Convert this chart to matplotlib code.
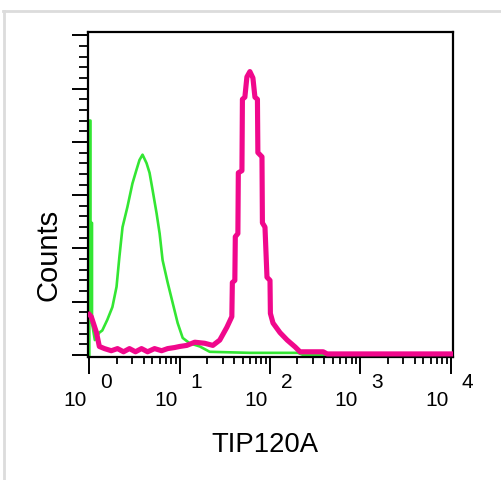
import matplotlib
matplotlib.use("Agg")
import matplotlib.pyplot as plt
from matplotlib.ticker import MultipleLocator, AutoMinorLocator, LogLocator, NullFormatter
from matplotlib.transforms import offset_copy

plt.rcParams['font.family'] = ['Liberation Sans', 'DejaVu Sans']

# isotype control (green)
ctrl_x = [1.0, 1.0, 1.03, 1.03, 1.07, 1.07, 1.15, 1.29, 1.39, 1.58, 1.80, 2.0, 2.15, 2.33,
          2.64, 3.0, 3.33, 3.59, 3.88, 4.30, 4.64, 5.01, 5.55, 6.0, 6.47, 7.36, 8.36,
          9.5, 10.8, 12.9, 16.7, 21.5, 60, 204, 233, 10000]
ctrl_y = [0, 220, 220, 124, 124, 30, 14, 21, 23, 33, 45, 64, 92, 120,
          139, 161, 174, 183, 188, 180, 171, 155, 133, 114, 89, 68, 49,
          30, 16, 11, 8, 3, 2, 2, 0, 0]

# TIP120A stained sample (magenta)
tip_x = [1.0, 1.05, 1.20, 1.29, 1.47, 1.75, 2.05, 2.39, 2.78, 3.24, 3.78, 4.41, 5.27,
         6.31, 7.36, 8.8, 10, 12.0, 14.7, 18.9, 23.3, 27.8, 33.3, 37.8, 38.3, 40.8,
         41.3, 44.1, 44.6, 48.9, 49.5, 52.7, 55.5, 59.9, 64.7, 68.1, 72.6, 73.4, 81.5,
         82.4, 88, 92.6, 100, 101, 108, 129, 155, 190, 215, 388, 430, 10000]
tip_y = [38, 36, 21, 8, 6, 4, 6, 3, 6, 3, 6, 3, 6,
         4, 6, 7, 8, 9, 12, 11, 9, 14, 26, 36, 68, 70,
         111, 114, 171, 173, 240, 242, 261, 266, 260, 242, 240, 190, 186,
         124, 120, 73, 70, 39, 30, 21, 14, 7.5, 3, 3, 1, 1]

decades = [1, 10, 100, 1000, 10000]
exponents = ['0', '1', '2', '3', '4']

fig = plt.figure(figsize=(5.02, 4.8), dpi=100)
ax = fig.add_axes([0.176, 0.256, 0.727, 0.677])

ax.plot(ctrl_x, ctrl_y, color='#33e633', lw=1.9, zorder=2)
ax.plot(tip_x, tip_y, color='#f0088c', lw=3.7, zorder=3)

ax.set_xscale('log')
ax.set_xlim(0.975, 10700)
ax.set_ylim(-2, 303)

ax.xaxis.set_major_locator(LogLocator(base=10, numticks=10))
ax.xaxis.set_minor_locator(LogLocator(base=10, subs=range(2, 10), numticks=20))
ax.xaxis.set_major_formatter(NullFormatter())
ax.xaxis.set_minor_formatter(NullFormatter())
ax.yaxis.set_major_locator(MultipleLocator(50))
ax.yaxis.set_minor_locator(AutoMinorLocator(5))
ax.yaxis.set_major_formatter(NullFormatter())

ax.tick_params(axis='x', which='major', direction='out', length=12, width=1.4)
ax.tick_params(axis='x', which='minor', direction='out', length=5, width=1.3)
ax.tick_params(axis='y', which='major', direction='out', length=11.5, width=1.4)
ax.tick_params(axis='y', which='minor', direction='out', length=6.5, width=1.3)
for s in ax.spines.values():
    s.set_linewidth(1.6)

# old cytometer style labels: "10" left of the tick, exponent right of it
base_tr = offset_copy(ax.get_xaxis_transform(), fig=fig, x=-14, y=0, units='dots')
exp_tr = offset_copy(ax.get_xaxis_transform(), fig=fig, x=17, y=0, units='dots')
for d, e in zip(decades, exponents):
    ax.text(d, -0.132, '10', transform=base_tr, ha='center', va='center', fontsize=15)
    ax.text(d, -0.077, e, transform=exp_tr, ha='center', va='center', fontsize=15)

ax.text(-0.11, 0.314, 'Counts', transform=ax.transAxes, rotation=90,
        ha='center', va='center', fontsize=21)
ax.text(0.485, -0.271, 'TIP120A', transform=ax.transAxes,
        ha='center', va='center', fontsize=19.8)

# light grey frame of the original picture
fig.add_artist(plt.Line2D([0.006, 1.0], [0.977, 0.977], transform=fig.transFigure,
                          color='#dcdcdc', lw=2))
fig.add_artist(plt.Line2D([0.008, 0.008], [0.0, 0.977], transform=fig.transFigure,
                          color='#dcdcdc', lw=2))

fig.savefig('out.png', dpi=100)
